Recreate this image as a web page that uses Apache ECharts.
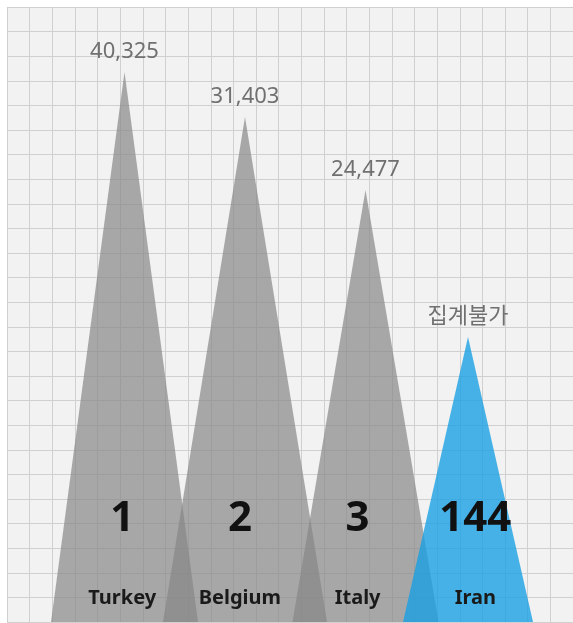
<!DOCTYPE html>
<html>
<head>
<meta charset="utf-8">
<script src="https://cdn.jsdelivr.net/npm/echarts@6/dist/echarts.min.js"></script>
<style>
  html, body { margin: 0; padding: 0; background: #ffffff; }
  #chart { width: 573px; height: 623px; }
</style>
</head>
<body>
<div id="chart"></div>
<script>
// ---- data ----
const countries = ['Turkey', 'Belgium', 'Italy', 'Iran'];
const ranks = [1, 2, 3, 144];
const counts = [40325, 31403, 24477, null];       // null = 집계불가
const heights = [22.36, 20.53, 17.56, 11.59];     // triangle heights in grid cells
const highlighted = 'Iran';
const notCountedText = '집계불가';

// ---- styles ----
const baseWidths = [147, 164, 146, 130];
const grayColor = 'rgba(134,134,134,0.69)';
const blueColor = 'rgba(26,160,226,0.8)';
const gridLineColor = '#d0d0d0';
const font = "'Noto Sans', 'Noto Sans CJK KR', sans-serif";

function buildData(isHighlight) {
  return countries.map((c, i) => {
    const match = (c === highlighted) === isHighlight;
    if (!match) return '-';
    return { value: heights[i], symbolSize: [baseWidths[i], '100%'] };
  });
}

const labelOpt = {
  show: true,
  position: 'top',
  distance: 9,
  fontSize: 22,
  fontFamily: font,
  color: '#707070',
  formatter: p => counts[p.dataIndex] == null ? notCountedText : counts[p.dataIndex].toLocaleString('en-US')
};

const hidden = { axisLine: { show: false }, axisTick: { show: false }, axisLabel: { show: false } };

const chart = echarts.init(document.getElementById('chart'), null, { renderer: 'canvas' });
chart.setOption({
  animation: false,
  backgroundColor: '#ffffff',
  grid: [
    { left: 7, right: -4, top: 7, bottom: 1, show: true, backgroundColor: '#f2f2f2', borderWidth: 0 },
    { left: 55.25, right: 35.75, top: 7, bottom: 1 },
    { left: 63.35, right: 38.85, top: 7, bottom: 1 }
  ],
  xAxis: [
    Object.assign({ type: 'value', gridIndex: 0, min: 0, max: 25, interval: 1,
      splitLine: { show: true, lineStyle: { color: gridLineColor, width: 1 } } }, hidden),
    Object.assign({ type: 'category', gridIndex: 1, data: countries, splitLine: { show: false } }, hidden),
    {
      type: 'category', gridIndex: 2, data: countries,
      axisLine: { show: false }, axisTick: { show: false }, splitLine: { show: false },
      axisLabel: {
        show: true, inside: true, interval: 0, margin: 12,
        formatter: (v, i) => '{r|' + ranks[i] + '}\n{n|' + v + '}',
        rich: {
          r: { fontSize: 42, fontWeight: 'bold', color: '#111111', fontFamily: font, lineHeight: 134 },
          n: { fontSize: 20, fontWeight: 'bold', color: '#1a1a1a', fontFamily: font, lineHeight: 24 }
        }
      },
      z: 10
    }
  ],
  yAxis: [
    Object.assign({ type: 'value', gridIndex: 0, min: 0, max: 25, interval: 1,
      splitLine: { show: true, lineStyle: { color: gridLineColor, width: 1 } } }, hidden),
    Object.assign({ type: 'value', gridIndex: 1, min: 0, max: 25, splitLine: { show: false } }, hidden),
    Object.assign({ type: 'value', gridIndex: 2, min: 0, max: 25, splitLine: { show: false } }, hidden)
  ],
  series: [
    {
      name: 'highlight', type: 'pictorialBar', xAxisIndex: 1, yAxisIndex: 1,
      symbol: 'triangle', barWidth: 10, barGap: '80%', z: 3,
      itemStyle: { color: blueColor },
      label: labelOpt,
      data: buildData(true)
    },
    {
      name: 'others', type: 'pictorialBar', xAxisIndex: 1, yAxisIndex: 1,
      symbol: 'triangle', barWidth: 10, barGap: '80%', z: 2,
      itemStyle: { color: grayColor },
      label: labelOpt,
      data: buildData(false)
    }
  ]
});
</script>
</body>
</html>
